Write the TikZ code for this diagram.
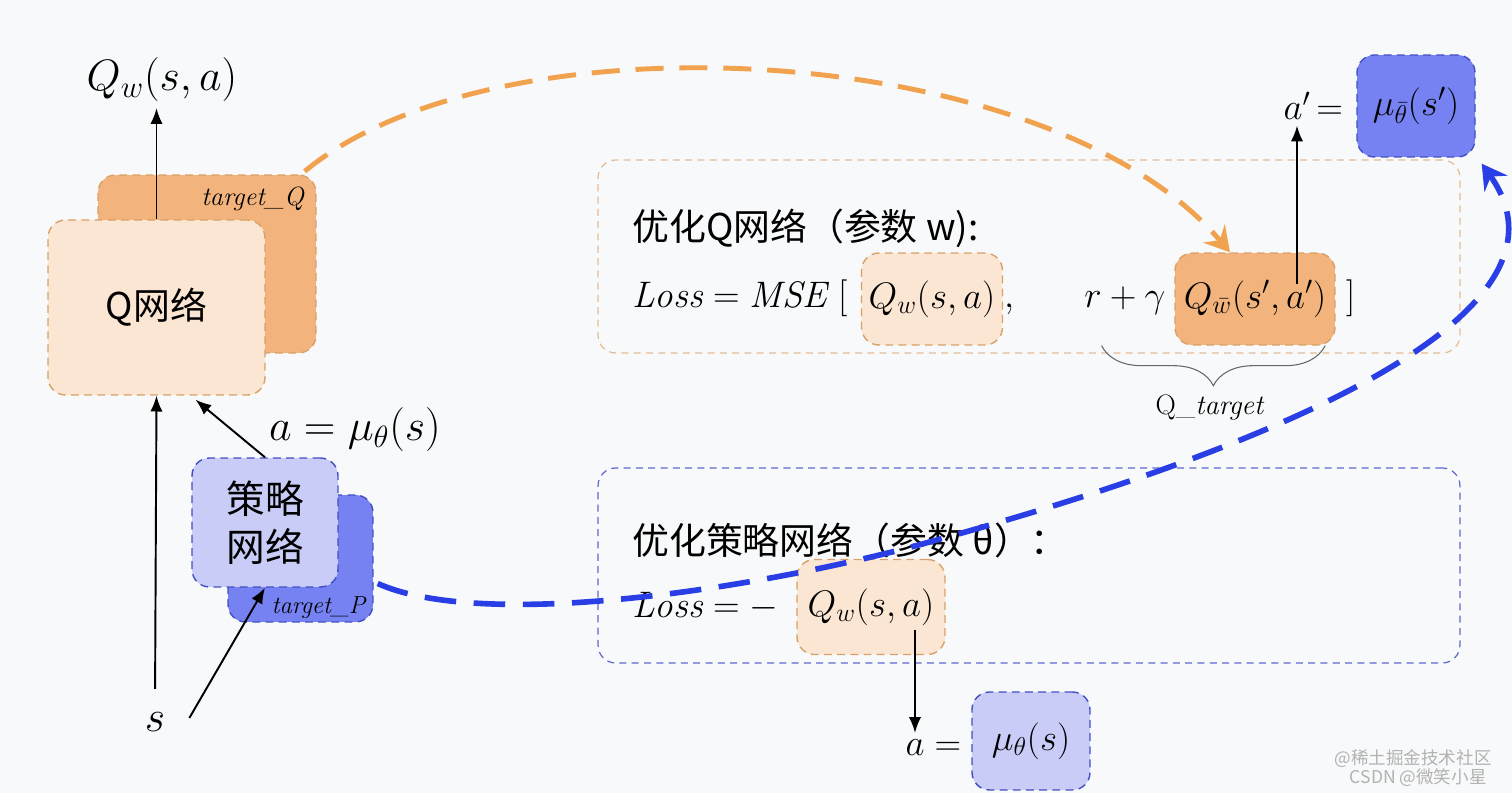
\RequirePackage{fix-cm}
\documentclass[tikz,border=0pt]{standalone}
\usepackage{fontspec}
\newfontfamily\cjk{Noto Sans CJK SC}
\usetikzlibrary{arrows.meta,decorations.pathreplacing,positioning}

\definecolor{bgc}{HTML}{F8F9FA}
\definecolor{peach}{HTML}{FBE6D3}
\definecolor{tqfill}{HTML}{F2B47C}
\definecolor{oline}{HTML}{D9A068}
\definecolor{ocurve}{HTML}{F0A24E}
\definecolor{pfill}{HTML}{C8CCF6}
\definecolor{tpfill}{HTML}{7682F1}
\definecolor{bline}{HTML}{4250C4}
\definecolor{bcurve}{HTML}{2A3EE6}

\tikzset{
  qbox/.style={draw=oline, dash pattern=on 4.5pt off 3pt, fill=peach, rounded corners=10pt, line width=0.8pt},
  tqbox/.style={qbox, fill=tqfill},
  pbox/.style={draw=bline, dash pattern=on 4.5pt off 3pt, fill=pfill, rounded corners=10pt, line width=0.8pt},
  tpbox/.style={pbox, fill=tpfill},
  panel/.style={dash pattern=on 4pt off 3pt, rounded corners=10pt, line width=0.7pt},
  arr/.style={-{Latex[length=9pt,width=7pt]}, line width=1.1pt},
  big/.style={font=\fontsize{25}{30}\selectfont},
  mid/.style={font=\fontsize{21}{25}\selectfont},
  wmark/.style={anchor=east, inner sep=0pt, gray!60, font=\cjk\fontsize{10}{11}\selectfont},
}

\begin{document}
\begin{tikzpicture}[x=0.02cm,y=-0.02cm]
  \fill[bgc] (0,0) rectangle (1512,793);
  \useasboundingbox (0,0) rectangle (1512,793);

  % Q network and its target copy
  \node[tqbox, minimum width=4.36cm, minimum height=3.56cm] (tq) at (207,264) {};
  \node[anchor=east, font=\fontsize{15}{18}\selectfont] (tqlab) at ([shift={(-6,25)}]tq.north east) {\textit{target\_Q}};
  \node[qbox, minimum width=4.34cm, minimum height=3.5cm, font=\cjk\fontsize{21}{25}\selectfont] (qnet) at (156.5,307.5) {Q网络};
  \node[big] (qout) at (162,80) {$Q_w(s,a)$};
  \draw[arr] (qnet.north) -- (qnet.north |- qout.south);

  % policy network and its target copy
  \node[tpbox, minimum width=2.9cm, minimum height=2.54cm] (tp) at (300.5,558.5) {};
  \node[anchor=east, font=\fontsize{14}{16}\selectfont] (tplab) at ([shift={(-1,-15)}]tp.south east) {\textit{target\_P}};
  \node[pbox, minimum width=2.92cm, minimum height=2.58cm, align=center,
        font=\cjk\fontsize{22}{27}\selectfont] (pnet) at (265,522.5) {策略\\网络};

  \node[big] (sin) at (155,722) {$s$};
  \draw[arr, shorten <=10pt] (sin.north) -- (qnet.south);
  \draw[arr] ([shift={(18,-4)}]sin.east) -- (pnet.south);
  \draw[arr] (pnet.north) -- ([shift={(39,4)}]qnet.south);
  \node[big] (alab) at (355,430) {$a=\mu_\theta(s)$};

  % panels
  \node[panel, draw=oline!70, minimum width=17.24cm, minimum height=3.86cm] (qpanel) at (1029,256.5) {};
  \node[panel, draw=bline!85, minimum width=17.24cm, minimum height=3.9cm] (ppanel) at (1029,565.5) {};

  % Q loss
  \node[anchor=west, font=\cjk\fontsize{21}{25}\selectfont] (qhead) at (626,228) {优化Q网络（参数 w):};
  \node[mid, anchor=base west] (mse) at (626,308) {$\mathit{Loss} = \mathit{MSE}\ [$};
  \node[qbox, mid, minimum width=2.82cm, minimum height=1.84cm] (qsa) at (932,299) {$Q_w(s,a)$};
  \node[mid, anchor=base west] (comma) at (998,308) {$,$};
  \node[mid, anchor=base west, inner sep=0pt] (rg) at (1084,308) {$r+\gamma$};
  \node[tqbox, mid, minimum width=3.2cm, minimum height=1.84cm] (tqf) at (1255,299) {$Q_{\bar w}(s',a')$};
  \node[mid, anchor=base west] (rb) at (1340,308) {$]$};
  \draw[gray!80!black, line width=0.6pt, decorate, decoration={brace, mirror, amplitude=0.8cm}]
    ([xshift=10]rg.west |- tqf.south) -- ([xshift=-6]tqf.south east);
  \node[font=\fontsize{16}{19}\selectfont] (qtl) at (1210,408) {Q\_\textit{target}};

  % target action
  \node[tpbox, mid, minimum width=2.36cm, minimum height=2.04cm] (mubar) at (1416,106) {$\mu_{\bar\theta}(s')$};
  \node[mid, anchor=base, inner sep=0pt] (aprime) at (1297,120) {$a'$};
  \node[mid, anchor=base west, inner sep=0pt] (eq1) at ([xshift=3pt]aprime.base east) {$=$};
  \draw[arr, shorten >=3pt] ([shift={(0,32)}]tqf.north -| aprime.south) -- (aprime.south);

  % policy loss
  \node[anchor=west, font=\cjk\fontsize{21}{25}\selectfont] (phead) at (626,540) {优化策略网络（参数 θ）：};
  \node[mid, anchor=base west] (lneg) at (626,618) {$\mathit{Loss} = -$};
  \node[qbox, mid, minimum width=2.96cm, minimum height=1.9cm] (qneg) at (871,607) {$Q_w(s,a)$};
  \node[pbox, mid, minimum width=2.36cm, minimum height=1.96cm] (amu) at (1031,741) {$\mu_\theta(s)$};
  \node[mid, anchor=base] (abot) at (915,755) {$a$};
  \node[mid, anchor=base west, inner sep=0pt] (eq2) at ([xshift=2pt]abot.base east) {$=$};
  \draw[arr] ([shift={(0,23)}]qneg.center -| abot.north) -- (abot.north);

  % soft updates of the targets
  \draw[ocurve, line width=2.8pt, dash pattern=on 16pt off 9pt, -{Stealth[length=14pt,width=16pt,inset=5pt]}]
    ([shift={(-12,-3)}]tq.north east) .. controls (500,10) and (1050,40) .. ([shift={(-25,0)}]tqf.north);
  \draw[bcurve, line width=3.2pt, dash pattern=on 18pt off 10pt, -{Stealth[length=14pt,width=16pt,inset=5pt]}]
    ([shift={(4,25)}]tp.east) .. controls (470,625) and (700,600) .. (900,550)
    .. controls (1200,470) and (1600,330) .. ([shift={(6,6)}]mubar.south east);

  % watermark
  \node[wmark] (wm1) at (1492,759) {@稀土掘金技术社区};
  \node[wmark] (wm2) at (1487,778) {CSDN @微笑小星};
\end{tikzpicture}
\end{document}
